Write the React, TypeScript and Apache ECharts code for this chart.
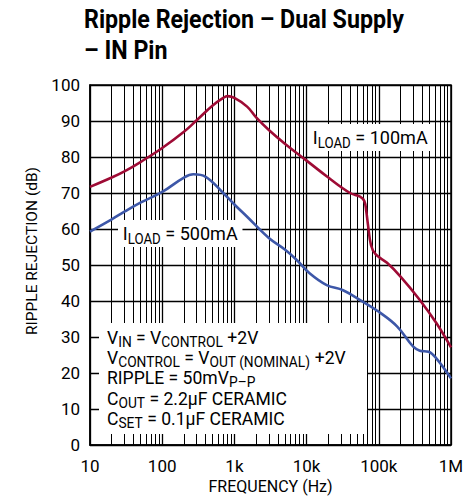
import React, { useEffect, useRef } from "react";
import * as echarts from "echarts";

const titleLines = ["Ripple Rejection – Dual Supply", "– IN Pin"];
const xTickValues = [10, 100, 1000, 10000, 100000, 1000000];
const xTickLabels = ["10", "100", "1k", "10k", "100k", "1M"];

// I_LOAD = 100mA
const load100Freq = [10, 20, 30, 50, 100, 200, 300, 500, 700, 800, 1000, 1500, 2000, 3000, 5000, 10000, 20000, 40000, 55000, 63000, 67000, 71000, 78000, 90000, 130000, 200000, 370000, 630000, 1000000];
const load100Db = [71.7, 74.3, 76, 78.6, 82.5, 87, 90.2, 94.3, 96.4, 96.9, 96.4, 94, 91, 87.5, 83.7, 79, 74.3, 70, 69, 67.8, 65, 61, 55.5, 53, 50.6, 46.8, 40.3, 33.8, 27.1];

// I_LOAD = 500mA
const load500Freq = [10, 20, 30, 50, 100, 200, 270, 400, 700, 1000, 1500, 3000, 5000, 7300, 11000, 19000, 32000, 60000, 100000, 180000, 300000, 370000, 490000, 630000, 1000000];
const load500Db = [59.3, 62.7, 64.8, 67.3, 70.3, 74.3, 75.2, 74.5, 70, 66.8, 63.4, 57.5, 54.3, 51.4, 47.7, 44.4, 43, 39.8, 37, 32.9, 27.3, 26.2, 25.9, 24, 18.5];

const conditionLines = [
  "{m|V}{s|IN}{m| = V}{s|CONTROL}{m| +2V}",
  "{m|V}{s|CONTROL}{m| = V}{s|OUT (NOMINAL)}{m| +2V}",
  "{m|RIPPLE = 50mV}{s|P–P}",
  "{m|C}{s|OUT}{m| = 2.2µF CERAMIC}",
  "{m|C}{s|SET}{m| = 0.1µF CERAMIC}",
];

const minorGridFreqs: number[] = [];
[10, 100, 1000, 10000, 100000].forEach((d) => {
  for (let m = 2; m <= 9; m++) minorGridFreqs.push(m * d);
});

const FONT = "Roboto, 'Liberation Sans', sans-serif";

export default function App() {
  const ref = useRef<HTMLDivElement>(null);
  useEffect(() => {
    if (!ref.current) return;
    const chart = echarts.init(ref.current, undefined, { renderer: "svg" });
    const main = { fontSize: 18.5, fontFamily: FONT, color: "#000", lineHeight: 20.3 };
    const sub = { fontSize: 14.5, fontFamily: FONT, color: "#000", lineHeight: 12, padding: [9, 0, 0, 0] };
    const rich = { m: main, s: sub };
    const lblMain = { fontSize: 19, fontFamily: FONT, color: "#000", lineHeight: 21 };
    const lblSub = { fontSize: 14, fontFamily: FONT, color: "#000", lineHeight: 12, padding: [10, 0, 0, 0] };
    const lblRich = { m: lblMain, s: lblSub };
    chart.setOption({
      animation: false,
      backgroundColor: "#fff",
      grid: { left: 90, right: 23, top: 85, bottom: 55, show: true, borderColor: "#000", borderWidth: 1.5 },
      xAxis: {
        type: "log",
        logBase: 10,
        min: 10,
        max: 1000000,
        name: "FREQUENCY (Hz)",
        nameLocation: "middle",
        nameGap: 33,
        nameTextStyle: { fontSize: 16, fontFamily: FONT, color: "#000" },
        axisLine: { show: true, lineStyle: { color: "#000", width: 1.5 } },
        axisTick: { show: false },
        axisLabel: {
          fontSize: 17,
          fontFamily: FONT,
          color: "#000",
          margin: 12,
          formatter: (v: number) => {
            const i = xTickValues.findIndex((t) => Math.abs(Math.log10(t) - Math.log10(v)) < 1e-6);
            return i >= 0 ? xTickLabels[i] : "";
          },
        },
        splitLine: { show: true, lineStyle: { color: "#000", width: 1.3 } },
      },
      yAxis: {
        type: "value",
        min: 0,
        max: 100,
        interval: 10,
        name: "RIPPLE REJECTION (dB)",
        nameLocation: "middle",
        nameGap: 42,
        nameTextStyle: { fontSize: 15.5, fontFamily: FONT, color: "#000", padding: [0, 0, 0, 28] },
        axisLine: { show: true, lineStyle: { color: "#000", width: 1.5 } },
        axisTick: { show: false },
        axisLabel: { fontSize: 17, fontFamily: FONT, color: "#000", margin: 10 },
        splitLine: { show: true, lineStyle: { color: "#000", width: 1.3 } },
      },
      series: [
        {
          type: "line",
          data: [],
          z: 1,
          silent: true,
          markLine: {
            silent: true,
            symbol: "none",
            label: { show: false },
            lineStyle: { color: "#000", width: 1, type: "solid" },
            data: minorGridFreqs.map((f) => ({ xAxis: f })),
          },
        },
        {
          type: "line",
          name: "100mA",
          data: load100Freq.map((f, i) => [f, load100Db[i]]),
          smooth: 0.4,
          showSymbol: false,
          z: 20,
          lineStyle: { color: "#9E0B35", width: 2.6 },
        },
        {
          type: "line",
          name: "500mA",
          data: load500Freq.map((f, i) => [f, load500Db[i]]),
          smooth: 0.4,
          showSymbol: false,
          z: 20,
          lineStyle: { color: "#3D57A8", width: 2.6 },
        },
      ],
      graphic: [
        {
          type: "text",
          z: 30,
          x: 84,
          y: 4,
          scaleX: 0.93,
          style: {
            text: titleLines.join("\n"),
            fontSize: 25,
            fontWeight: "bold",
            fontFamily: FONT,
            fill: "#000",
            lineHeight: 31,
          },
        },
        { type: "rect", z: 10, shape: { x: 99, y: 323, width: 268, height: 111 }, style: { fill: "#fff" } },
        {
          type: "text",
          z: 11,
          x: 107,
          y: 327,
          scaleX: 0.95,
          style: { text: conditionLines.join("\n"), rich },
        },
        {
          type: "text",
          z: 11,
          x: 118,
          y: 220,
          scaleX: 0.95,
          style: {
            text: "{m|I}{s|LOAD}{m| = 500mA}",
            rich: lblRich,
            backgroundColor: "#fff",
            padding: [3, 5, 3, 5],
          },
        },
        {
          type: "text",
          z: 11,
          x: 309,
          y: 124,
          scaleX: 0.95,
          style: {
            text: "{m|I}{s|LOAD}{m| = 100mA}",
            rich: lblRich,
            backgroundColor: "#fff",
            padding: [3, 4, 3, 4],
          },
        },
      ],
    });
    return () => chart.dispose();
  }, []);
  return <div ref={ref} style={{ position: "fixed", left: 0, top: 0, width: 474, height: 500 }} />;
}
